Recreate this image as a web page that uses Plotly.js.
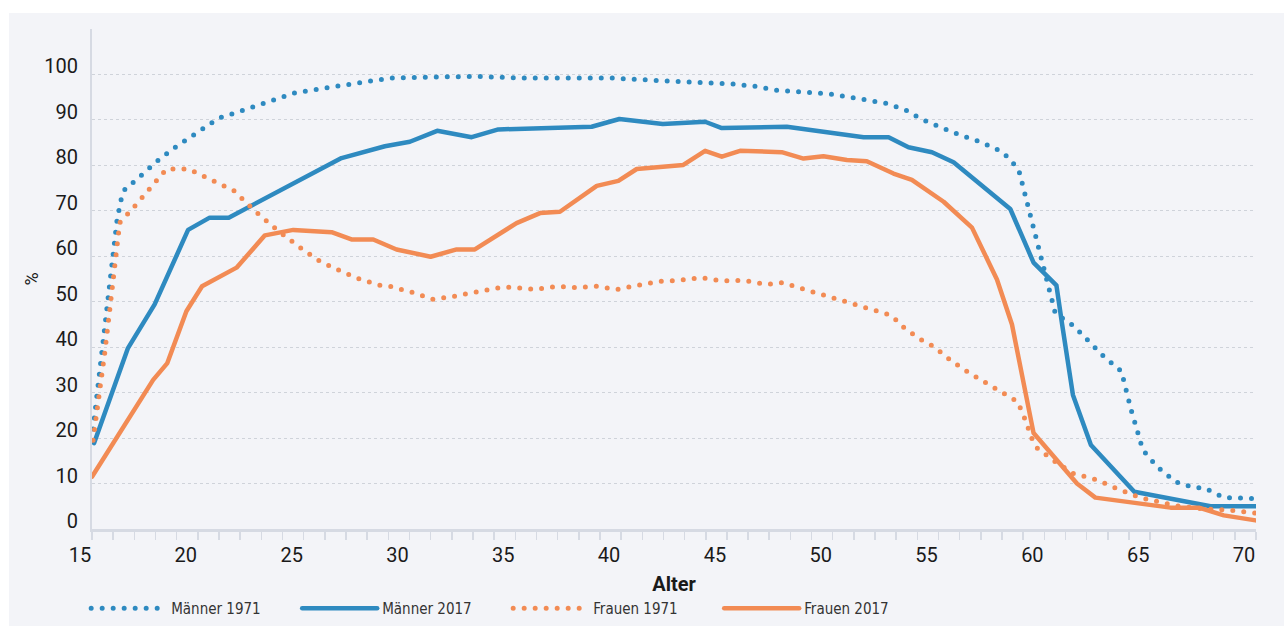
<!DOCTYPE html>
<html>
<head>
<meta charset="utf-8">
<script src="https://cdn.plot.ly/plotly-3.0.1.min.js"></script>
<style>
  html, body { margin: 0; padding: 0; background: #ffffff; }
  #chart { position: absolute; left: 9px; top: 13px; width: 1275px; height: 613px; }
  .scatterlayer path.js-line, .legend path.js-line { stroke-linecap: round; stroke-linejoin: round; }
</style>
</head>
<body>
<div id="chart"></div>
<script>
// Alter (Jahre) und Erwerbsquote (%) je Serie
const maenner1971Alter = [15.05, 15.28, 15.52, 15.76, 15.99, 16.18, 16.36, 16.51, 17.3, 18.15, 18.94, 20.17, 20.99, 21.94, 22.98, 24.03, 24.55, 25.45, 26.48, 27.5, 28.52, 29.08, 31.05, 33.17, 35.22, 39.6, 41.22, 42.71, 43.77, 45.25, 46.3, 47.36, 48.93, 49.9, 50.92, 52.47, 53.44, 54.22, 55.1, 56.0, 56.97, 58.04, 58.78, 59.1, 59.37, 59.76, 60.16, 60.52, 61.38, 62.09, 62.8, 63.64, 63.83, 64.1, 64.38, 64.65, 65.33, 66.2, 67.06, 67.53, 68.48, 69.98];
const maenner1971Wert = [22.0, 31.7, 41.3, 51.1, 60.4, 67.8, 72.2, 74.5, 77.7, 81.2, 84.0, 87.8, 90.4, 91.8, 93.5, 95.0, 95.9, 96.6, 97.4, 98.0, 98.8, 99.2, 99.4, 99.6, 99.2, 99.2, 98.8, 98.3, 98.2, 97.9, 97.4, 96.5, 96.1, 95.7, 94.9, 93.7, 92.2, 90.1, 88.4, 86.7, 85.2, 82.9, 79.2, 73.2, 68.3, 61.3, 54.3, 47.4, 44.7, 41.5, 38.0, 34.7, 30.8, 26.2, 21.8, 17.4, 13.7, 10.4, 9.1, 9.1, 6.9, 6.7];

const maenner2017Alter = [15.1, 16.7, 17.96, 19.54, 20.56, 21.46, 26.79, 28.84, 30.02, 31.31, 32.94, 34.2, 38.61, 39.92, 41.97, 43.97, 44.76, 47.83, 51.46, 52.64, 53.58, 54.69, 55.71, 58.39, 59.49, 60.57, 60.83, 61.35, 62.2, 64.25, 67.85, 69.98];
const maenner2017Wert = [18.9, 39.8, 49.4, 65.8, 68.5, 68.5, 81.6, 84.2, 85.2, 87.6, 86.2, 87.9, 88.5, 90.2, 89.1, 89.6, 88.2, 88.5, 86.2, 86.2, 84.0, 82.9, 80.7, 70.4, 58.6, 53.6, 45.3, 29.5, 18.5, 8.2, 5.0, 5.0];

const frauen1971Alter = [15.05, 15.36, 15.6, 15.84, 16.07, 16.31, 16.94, 17.57, 18.2, 18.52, 19.57, 20.41, 21.27, 21.71, 22.69, 23.79, 24.98, 25.77, 26.63, 27.58, 28.52, 29.16, 30.18, 31.12, 32.1, 33.17, 34.24, 34.75, 35.93, 36.96, 37.9, 38.82, 39.82, 40.77, 41.81, 42.71, 43.77, 44.71, 45.82, 46.85, 47.67, 48.46, 49.4, 50.35, 51.3, 52.28, 52.77, 53.43, 54.29, 54.76, 55.63, 56.5, 57.37, 58.26, 58.74, 59.1, 59.41, 59.68, 60.52, 61.38, 62.49, 63.43, 64.54, 66.11, 67.37, 68.79, 69.98];
const frauen1971Wert = [19.5, 29.9, 38.7, 48.3, 57.8, 67.4, 70.6, 74.0, 77.6, 79.2, 79.2, 77.4, 75.3, 74.4, 70.0, 65.6, 61.4, 58.9, 57.0, 55.1, 53.7, 53.3, 52.0, 50.5, 51.2, 52.2, 53.1, 53.2, 52.7, 53.4, 53.1, 53.4, 52.7, 53.6, 54.5, 54.7, 55.3, 54.6, 54.7, 53.8, 54.2, 53.0, 51.7, 50.3, 49.0, 47.8, 47.0, 44.0, 41.3, 40.2, 36.9, 34.2, 31.7, 29.3, 28.0, 24.0, 19.9, 17.7, 14.8, 12.2, 10.8, 8.9, 6.9, 5.2, 4.5, 4.1, 3.5];

const frauen2017Alter = [15.0, 17.89, 18.56, 19.46, 20.2, 21.83, 23.17, 24.51, 26.32, 27.26, 28.29, 29.39, 31.0, 32.23, 33.09, 35.06, 36.17, 37.11, 38.85, 39.87, 40.74, 42.94, 43.97, 44.76, 45.62, 47.59, 48.62, 49.56, 50.67, 51.61, 52.87, 53.74, 55.24, 56.58, 57.76, 58.47, 59.49, 61.54, 62.41, 65.96, 67.3, 68.48, 69.98];
const frauen2017Wert = [11.5, 32.8, 36.5, 47.9, 53.4, 57.5, 64.6, 65.8, 65.3, 63.7, 63.7, 61.5, 59.9, 61.5, 61.5, 67.3, 69.5, 69.8, 75.5, 76.6, 79.2, 80.1, 83.2, 81.9, 83.2, 82.9, 81.5, 82.0, 81.2, 80.9, 78.2, 76.8, 72.0, 66.3, 54.9, 45.0, 21.1, 10.0, 6.9, 4.7, 4.7, 3.0, 1.9];

const serienNamen = ['Männer 1971', 'Männer 2017', 'Frauen 1971', 'Frauen 2017'];
const xTickWerte = [15, 20, 25, 30, 35, 40, 45, 50, 55, 60, 65, 70];
const yTickWerte = [0, 10, 20, 30, 40, 50, 60, 70, 80, 90, 100, 110];
const yTickTexte = ['0', '10', '20', '30', '40', '50', '60', '70', '80', '90', '100', ''];

const BLAU = '#2e8ac0';
const ORANGE = '#f28b54';
const DOT = '0px,11px';

const traces = [
  { x: maenner1971Alter, y: maenner1971Wert, name: serienNamen[0], mode: 'lines', line: { color: BLAU, width: 5, dash: DOT } },
  { x: maenner2017Alter, y: maenner2017Wert, name: serienNamen[1], mode: 'lines', line: { color: BLAU, width: 4.5 } },
  { x: frauen1971Alter, y: frauen1971Wert, name: serienNamen[2], mode: 'lines', line: { color: ORANGE, width: 5, dash: DOT } },
  { x: frauen2017Alter, y: frauen2017Wert, name: serienNamen[3], mode: 'lines', line: { color: ORANGE, width: 4.5 } }
];

const AXCOL = '#d6dae3';
const layout = {
  width: 1275, height: 613,
  paper_bgcolor: '#f3f4f8', plot_bgcolor: '#f3f4f8',
  margin: { l: 83, r: 28, t: 16, b: 97, autoexpand: false },
  font: { family: 'Roboto, sans-serif', color: '#1a1a1a' },
  showlegend: true,
  legend: {
    orientation: 'h', x: -0.005, xanchor: 'left', y: -0.159, yanchor: 'middle',
    itemwidth: 75, entrywidth: 121, entrywidthmode: 'pixels',
    font: { family: '"Liberation Sans Narrow", "DejaVu Sans Condensed", sans-serif', size: 15, color: '#333333' },
    bgcolor: 'rgba(0,0,0,0)', traceorder: 'normal', itemclick: false
  },
  xaxis: {
    range: [15, 70], tickvals: xTickWerte, ticks: 'outside', ticklen: 8, tickwidth: 1.5, tickcolor: AXCOL,
    minor: { dtick: 1, tick0: 15, ticks: 'outside', ticklen: 8, tickwidth: 1.5, tickcolor: AXCOL, showgrid: false },
    showgrid: false, zeroline: false, showline: true, linecolor: AXCOL, linewidth: 2.5,
    tickfont: { size: 20, color: '#1a1a1a' }, ticklabelshift: -12, ticklabelstandoff: -2,
    title: { text: 'Alter', font: { size: 20, weight: 'bold', color: '#1a1a1a' }, standoff: 12 }
  },
  yaxis: {
    range: [0, 110], tickvals: yTickWerte, ticktext: yTickTexte, ticks: '',
    showgrid: true, gridcolor: '#cfd3da', gridwidth: 1, griddash: 'dot',
    zeroline: false, showline: true, linecolor: AXCOL, linewidth: 2,
    tickfont: { size: 20, color: '#1a1a1a' }, ticklabelstandoff: 8, ticklabelshift: -8,
    title: { text: '%', font: { size: 18, color: '#1a1a1a' }, standoff: 1 }
  }
};

Plotly.newPlot('chart', traces, layout, { staticPlot: true, displayModeBar: false });
</script>
</body>
</html>
